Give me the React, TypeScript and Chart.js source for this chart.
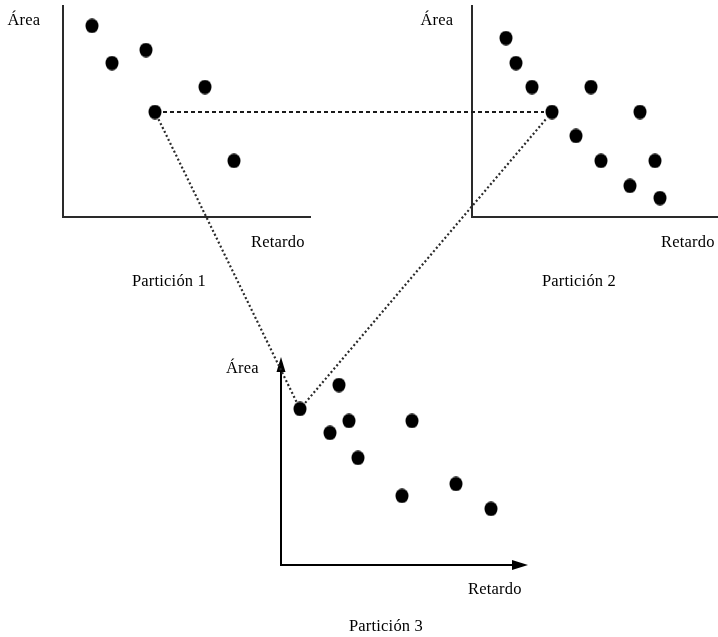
import React, { useEffect, useRef } from "react";
import { Chart, registerables } from "chart.js";

Chart.register(...registerables);

// ---- Data (Retardo = x, Área = y) ----
const p1Retardo = [1.16, 1.96, 3.32, 5.68, 3.68, 6.84];
const p1Area = [9.1, 7.33, 7.95, 6.19, 5.0, 2.67];

const p2Retardo = [1.36, 1.76, 2.4, 4.76, 3.2, 6.72, 4.16, 5.16, 7.32, 6.32, 7.52];
const p2Area = [8.52, 7.33, 6.19, 6.19, 5.0, 5.0, 3.86, 2.67, 2.67, 1.48, 0.9];

const p3Retardo = [0.76, 2.32, 1.96, 2.72, 3.08, 5.24, 4.84, 7.0, 8.4];
const p3Area = [7.43, 8.57, 6.29, 6.86, 5.1, 6.86, 3.29, 3.86, 2.67];

const partitionNames = ["Partición 1", "Partición 2", "Partición 3"];
const yAxisLabel = "Área";
const xAxisLabel = "Retardo";
// axis extents in data units [x max, y max]
const axisXMax = [9.92, 9.84, 9.88];
const axisYMax = [10.1, 10.1, 9.9];
// links: [fromPartition, fromIndex, toPartition, toIndex, style]
const links: [number, number, number, number, string][] = [
  [0, 4, 1, 4, "dash"],
  [0, 4, 2, 0, "dot"],
  [2, 0, 1, 4, "dot"],
];

// ---- Layout (positions / sizes / styles) ----
const W = 718;
const H = 637;
const PPU_X = 25;
const PPU_Y = 21;
const LAYOUT = [
  { ox: 63, oy: 217, area: [7.5, 25], ret: [251, 247], part: [169, 285.5], axisColor: "#2a2a2a", arrow: false },
  { ox: 472, oy: 217, area: [420.5, 25], ret: [661, 247], part: [579, 285.5], axisColor: "#2a2a2a", arrow: false },
  { ox: 281, oy: 565, area: [226, 373], ret: [468, 594], part: [386, 630.5], axisColor: "#000", arrow: true },
];

function makeDot() {
  const c = document.createElement("canvas");
  c.width = 14;
  c.height = 15;
  const g = c.getContext("2d")!;
  g.fillStyle = "#000";
  g.beginPath();
  g.ellipse(7, 7.5, 6.5, 7.3, 0, 0, Math.PI * 2);
  g.fill();
  return c;
}

export default function App() {
  const ref = useRef<HTMLCanvasElement | null>(null);

  useEffect(() => {
    if (!ref.current) return;
    const dot = makeDot();
    const series = [
      [p1Retardo, p1Area],
      [p2Retardo, p2Area],
      [p3Retardo, p3Area],
    ];
    const scales: any = {};
    LAYOUT.forEach((L, i) => {
      scales["x" + i] = {
        type: "linear",
        display: false,
        min: -L.ox / PPU_X,
        max: (W - L.ox) / PPU_X,
      };
      scales["y" + i] = {
        type: "linear",
        display: false,
        min: -(H - L.oy) / PPU_Y,
        max: L.oy / PPU_Y,
      };
    });

    const datasets = series.map(([xs, ys], i) => ({
      label: partitionNames[i],
      data: xs.map((x, k) => ({ x, y: ys[k] })),
      xAxisID: "x" + i,
      yAxisID: "y" + i,
      pointStyle: dot,
      pointRadius: 7,
      backgroundColor: "#000",
      borderColor: "#000",
    }));

    const diagram = {
      id: "diagram",
      beforeDatasetsDraw(chart: any) {
        const ctx = chart.ctx;
        const px = (i: number, x: number, y: number) => [
          chart.scales["x" + i].getPixelForValue(x),
          chart.scales["y" + i].getPixelForValue(y),
        ];
        ctx.save();
        // axes
        LAYOUT.forEach((L, i) => {
          const [x0, y0] = px(i, 0, 0);
          const [x1] = px(i, axisXMax[i], 0);
          const [, y1] = px(i, 0, axisYMax[i]);
          ctx.strokeStyle = L.axisColor;
          ctx.lineWidth = 2;
          ctx.setLineDash([]);
          ctx.beginPath();
          ctx.moveTo(x0, y1 + (L.arrow ? 8 : 0));
          ctx.lineTo(x0, y0);
          ctx.lineTo(x1 - (L.arrow ? 8 : 0), y0);
          ctx.stroke();
          if (L.arrow) {
            ctx.fillStyle = L.axisColor;
            ctx.beginPath();
            ctx.moveTo(x1, y0);
            ctx.lineTo(x1 - 16, y0 - 5);
            ctx.lineTo(x1 - 16, y0 + 5);
            ctx.closePath();
            ctx.fill();
            ctx.beginPath();
            ctx.moveTo(x0, y1);
            ctx.lineTo(x0 - 4.5, y1 + 15);
            ctx.lineTo(x0 + 4.5, y1 + 15);
            ctx.closePath();
            ctx.fill();
          }
          // labels
          ctx.fillStyle = "#000";
          ctx.font = '16.5px "Liberation Serif"';
          (ctx as any).letterSpacing = "0.2px";
          ctx.textBaseline = "alphabetic";
          ctx.textAlign = "left";
          ctx.fillText(yAxisLabel, L.area[0], L.area[1]);
          ctx.fillText(xAxisLabel, L.ret[0], L.ret[1]);
          ctx.textAlign = "center";
          ctx.fillText(partitionNames[i], L.part[0], L.part[1]);
        });
        // links
        links.forEach(([a, ai, b, bi, style]) => {
          const [ax, ay] = px(a, series[a][0][ai], series[a][1][ai]);
          const [bx, by] = px(b, series[b][0][bi], series[b][1][bi]);
          const d = Math.hypot(bx - ax, by - ay);
          const ux = (bx - ax) / d;
          const uy = (by - ay) / d;
          const s = 8;
          ctx.beginPath();
          if (style === "dash") {
            ctx.strokeStyle = "#1a1a1a";
            ctx.lineWidth = 2;
            ctx.setLineDash([4, 3]);
          } else {
            ctx.strokeStyle = "#2a2a2a";
            ctx.lineWidth = 2.2;
            ctx.setLineDash([2, 2.4]);
          }
          ctx.moveTo(ax + ux * s, ay + uy * s);
          ctx.lineTo(bx - ux * s, by - uy * s);
          ctx.stroke();
        });
        ctx.restore();
      },
    };

    const chart = new Chart(ref.current, {
      type: "scatter",
      data: { datasets },
      options: {
        responsive: false,
        animation: false,
        devicePixelRatio: 1,
        layout: { padding: 0, autoPadding: false },
        scales,
        plugins: {
          legend: { display: false },
          title: { display: false },
          tooltip: { enabled: false },
        },
      } as any,
      plugins: [diagram],
    });
    return () => chart.destroy();
  }, []);

  return (
    <div style={{ position: "absolute", left: 0, top: 0, width: W, height: H, background: "#fff" }}>
      <canvas ref={ref} width={W} height={H} style={{ display: "block" }} />
    </div>
  );
}
